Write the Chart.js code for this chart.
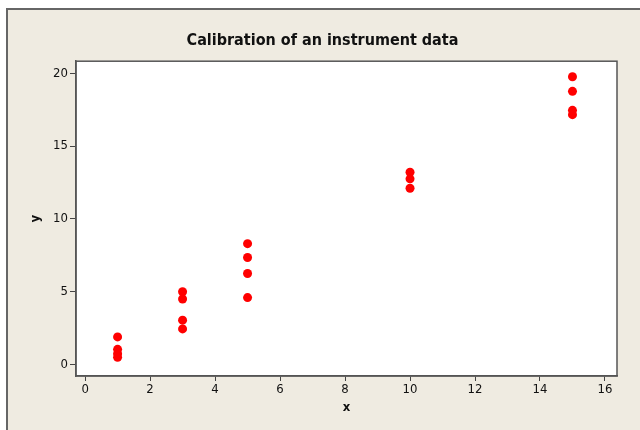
<!DOCTYPE html>
<html>
<head>
<meta charset="utf-8">
<script src="https://cdn.jsdelivr.net/npm/chart.js@4/dist/chart.umd.min.js"></script>
<style>
  html, body { margin: 0; padding: 0; background: #fff; }
  #wrap { width: 640px; height: 430px; }
</style>
</head>
<body>
<div id="wrap"><canvas id="chart" width="640" height="430"></canvas></div>
<script>
// x levels and measured y readings at each level
const xLevels = [1, 3, 5, 10, 15];
const yAt1 = [1.9, 1.05, 0.75, 0.5];
const yAt3 = [5.0, 4.5, 3.05, 2.45];
const yAt5 = [8.3, 7.35, 6.25, 4.6];
const yAt10 = [13.2, 12.75, 12.1];
const yAt15 = [19.75, 18.75, 17.45, 17.15];
const readings = [yAt1, yAt3, yAt5, yAt10, yAt15];

const xTicks = [0, 2, 4, 6, 8, 10, 12, 14, 16];
const yTicks = [0, 5, 10, 15, 20];

const points = [];
xLevels.forEach((x, i) => {
    readings[i].forEach(y => points.push({x: x, y: y}));
});

const BEIGE = '#EFEBE1';
const font = 'DejaVu Sans Condensed';

// beige panel with left/top frame, white plot area with a border
const framePlugin = {
    id: 'frame',
    beforeDraw(c) {
        const ctx = c.ctx;
        ctx.save();
        ctx.fillStyle = '#fff';
        ctx.fillRect(0, 0, c.width, c.height);
        ctx.fillStyle = BEIGE;
        ctx.fillRect(7, 9, c.width - 7, c.height - 9);
        ctx.strokeStyle = '#666';
        ctx.lineWidth = 2;
        ctx.beginPath();
        ctx.moveTo(7, c.height);
        ctx.lineTo(7, 9);
        ctx.lineTo(c.width, 9);
        ctx.stroke();
        const a = c.chartArea;
        ctx.fillStyle = '#fff';
        ctx.fillRect(a.left, a.top, a.right - a.left, a.bottom - a.top);
        ctx.restore();
    },
    afterDatasetsDraw(c) {
        const ctx = c.ctx;
        const a = c.chartArea;
        ctx.save();
        ctx.strokeStyle = '#555';
        ctx.lineWidth = 1.5;
        ctx.strokeRect(a.left, a.top, a.right - a.left, a.bottom - a.top);
        ctx.restore();
    }
};

new Chart(document.getElementById('chart').getContext('2d'), {
    type: 'scatter',
    data: {
        datasets: [{
            label: 'y',
            data: points,
            backgroundColor: '#FF0000',
            borderWidth: 0,
            pointRadius: 4.5,
            pointHoverRadius: 4.5
        }]
    },
    options: {
        responsive: false,
        animation: false,
        layout: { padding: { left: 28, right: 23, top: 0, bottom: 0 } },
        plugins: {
            legend: { display: false },
            tooltip: { enabled: false },
            title: {
                display: true,
                text: 'Calibration of an instrument data',
                color: '#111',
                font: { family: font, size: 16, weight: 'bold' },
                padding: { top: 31, bottom: 11 }
            }
        },
        scales: {
            x: {
                type: 'linear',
                min: -0.28,
                max: 16.37,
                afterFit(s) { s.height = 54; },
                afterBuildTicks(s) { s.ticks = xTicks.map(v => ({value: v})); },
                ticks: { includeBounds: false, color: '#111', padding: 1,
                    font: { family: font, size: 13 } },
                grid: { drawOnChartArea: false, tickLength: 5, color: '#444' },
                border: { color: '#555', width: 1.5 },
                title: { display: true, text: 'x', color: '#111',
                    font: { family: font, size: 13, weight: 'bold' },
                    padding: { top: 0, bottom: 15 } }
            },
            y: {
                type: 'linear',
                min: -0.78,
                max: 20.82,
                afterFit(s) { s.width = 48; },
                afterBuildTicks(s) { s.ticks = yTicks.map(v => ({value: v})); },
                ticks: { includeBounds: false, color: '#111', padding: 2,
                    font: { family: font, size: 13 } },
                grid: { drawOnChartArea: false, tickLength: 6, color: '#444' },
                border: { color: '#555', width: 1.5 },
                title: { display: true, text: 'y', color: '#111',
                    font: { family: font, size: 13, weight: 'bold' },
                    padding: { top: 0, bottom: 0 } }
            }
        }
    },
    plugins: [framePlugin]
});
</script>
</body>
</html>
